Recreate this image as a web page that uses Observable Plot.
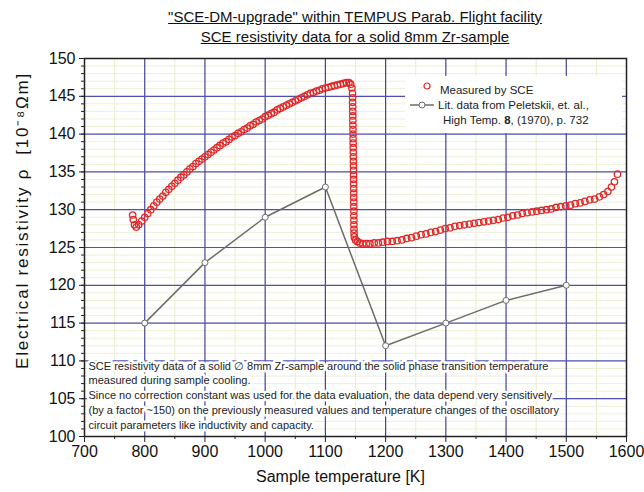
<!DOCTYPE html>
<html><head><meta charset="utf-8">
<script src="https://cdn.jsdelivr.net/npm/d3@7"></script>
<script src="https://cdn.jsdelivr.net/npm/@observablehq/plot@0.6"></script>
<style>
body{margin:0;background:#fff;font-family:"Liberation Sans",Arial,sans-serif;}
#wrap{position:relative;width:644px;height:492px;}
#title{height:44px;box-sizing:border-box;padding-top:7px;padding-left:66px;text-align:center;font-size:15px;line-height:20px;color:#111;}
#title span{text-decoration:underline;}
#legend{position:absolute;left:405px;top:76px;width:217px;height:57px;background:#fff;font-size:11.5px;color:#222;}
#legend .row{position:absolute;white-space:nowrap;line-height:14px;}
#legend svg{position:absolute;}
.ylab text{letter-spacing:1.8px;}
</style></head><body>
<div id="wrap">
<div id="title"><span>"SCE-DM-upgrade" within TEMPUS Parab. Flight facility</span><br><span>SCE resistivity data for a solid 8mm Zr-sample</span></div>
<div id="chart"></div>
<div id="legend"></div>
</div>
<script>
// Literature data (Peletskii et al.)
const litT = [800, 900, 1000, 1100, 1200, 1300, 1400, 1500];
const litR = [115, 123, 129, 133, 112, 115, 118, 120];

const measT = [
 780,781,783,786,790,795,800,805,810,815,820,825,830,835,840,845,850,855,860,865,870,875,880,885,890,895,
 900,905,910,915,920,925,930,935,940,945,950,955,960,965,970,975,980,985,990,995,
 1000,1005,1010,1015,1020,1025,1030,1035,1040,1045,1050,1055,1060,1065,1070,1075,1080,1085,1090,1095,
 1100,1105,1110,1115,1120,1125,1130,1135,1139,1142,1144,
 1145,1145.1,1145.2,1145.3,1145.4,1145.5,1145.6,1145.7,1145.8,1145.9,1146,1146.1,1146.2,1146.3,1146.4,1146.5,
 1146.6,1146.7,1146.8,1146.9,1147,1147,1147.1,1147.1,1147.2,1147.2,1147.3,1147.3,1147.4,1147.4,1147.5,1147.6,
 1148,1150,1153,1157,1162,1168,1174,1181,1188,1195,1203,1211,1219,1227,1235,
 1243,1251,1259,1267,1275,1283,1291,1299,1307,1315,1323,1331,1339,1347,1355,1363,1371,1379,1387,1395,
 1403,1411,1419,1427,1435,1443,1451,1459,1467,1475,1483,1491,1499,1507,1515,1523,1531,1539,1547,1555,
 1562,1569,1575,1580,1585
];
const measR = [
 129.3,128.7,128.0,127.7,128.0,128.5,129.0,129.5,130.0,130.5,131.0,131.4,131.8,132.3,132.7,133.1,133.5,133.9,134.3,134.6,135.0,135.4,135.7,136.1,136.4,136.7,
 137.0,137.3,137.6,137.9,138.2,138.5,138.8,139.0,139.3,139.6,139.8,140.1,140.3,140.6,140.8,141.1,141.3,141.6,141.8,142.0,
 142.3,142.5,142.7,142.9,143.2,143.4,143.6,143.8,144.0,144.2,144.4,144.6,144.8,145.0,145.2,145.4,145.5,145.7,145.8,146.0,
 146.1,146.2,146.3,146.4,146.5,146.6,146.7,146.8,146.8,146.6,146.1,
 145.4,144.8,144.2,143.6,143.0,142.4,141.8,141.2,140.6,140.0,139.4,138.8,138.2,137.6,137.0,136.4,
 135.8,135.2,134.6,134.0,133.4,132.8,132.2,131.6,131.0,130.4,129.8,129.2,128.6,128.0,127.4,126.9,
 126.4,126.0,125.8,125.6,125.5,125.5,125.5,125.6,125.6,125.7,125.8,125.8,125.9,126.0,126.2,
 126.3,126.5,126.7,126.8,127.0,127.1,127.3,127.5,127.6,127.8,127.9,128.0,128.1,128.2,128.3,128.4,128.5,128.6,128.7,128.9,
 129.0,129.2,129.3,129.5,129.6,129.7,129.8,129.9,130.0,130.1,130.3,130.4,130.5,130.6,130.8,130.9,131.1,131.3,131.4,131.7,
 132.0,132.4,133.0,133.7,134.7
];

const xTicks = [700, 800, 900, 1000, 1100, 1200, 1300, 1400, 1500, 1600];
const yTicks = [100, 105, 110, 115, 120, 125, 130, 135, 140, 145, 150];
const xMinor = [750, 850, 950, 1050, 1150, 1250, 1350, 1450, 1550];
const yMinor = d3.range(100, 151, 1);

const titleX = "Sample temperature [K]";
const titleY = "Electrical resistivity \u03c1  [10\u207b\u2078\u03a9m]";
const legendLabels = ["Measured by SCE", "Lit. data from Peletskii, et. al.,", "High Temp. ", "8", ", (1970), p. 732"];
const note = "SCE resistivity data of a solid \u2205 8mm Zr-sample around the solid phase transition temperature\nmeasured during sample cooling.\nSince no correction constant was used for the data evaluation, the data depend very sensitively\n(by a factor ~150) on the previously measured values and temperature changes of the oscillatory\ncircuit parameters like inductivity and capacity.";

const meas = measT.map((t, i) => ({t, r: measR[i]}));
const lit = litT.map((t, i) => ({t, r: litR[i]}));
const fmt = d => String(d);

const chart = Plot.plot({
  width: 644, height: 448,
  marginLeft: 84, marginRight: 18, marginTop: 14, marginBottom: 56,
  x: {domain: [700, 1600]},
  y: {domain: [100, 150]},
  style: {fontFamily: "'Liberation Sans', Arial, sans-serif", fontSize: "16px", color: "#111", background: "white", overflow: "visible"},
  marks: [
    Plot.gridX(xMinor, {stroke: "#e9ecc6", strokeOpacity: 1, strokeWidth: 1}),
    Plot.gridY(yMinor, {stroke: "#eef0d6", strokeOpacity: 1, strokeWidth: 1}),
    Plot.gridX(xTicks.slice(1, -1), {stroke: "#44449a", strokeOpacity: 1, strokeWidth: 1.2}),
    Plot.gridY(yTicks.slice(1, -1), {stroke: "#5050b0", strokeOpacity: 1, strokeWidth: 1.2}),
    Plot.text([note], {frameAnchor: "bottom-left", text: d => d, dx: 4, dy: -8, textAnchor: "start", lineAnchor: "bottom",
      fontSize: 11, lineHeight: 1.34, fill: "#222", stroke: "white", strokeWidth: 5}),
    Plot.line(lit, {x: "t", y: "r", stroke: "#6c6c6c", strokeWidth: 1.5}),
    Plot.dot(lit, {x: "t", y: "r", r: 3, fill: "white", stroke: "#6c6c6c", strokeWidth: 1}),
    Plot.dot(meas, {x: "t", y: "r", r: 3.2, fill: "none", stroke: "#e02828", strokeWidth: 1.3}),
    Plot.frame({stroke: "#222", strokeWidth: 1.5}),
    Plot.axisX(xTicks, {tickSize: 6, tickPadding: 3, fontSize: 16, tickFormat: fmt, label: null, stroke: "#222"}),
    Plot.axisX(xMinor, {tickSize: 3, tickFormat: () => "", label: null, stroke: "#222"}),
    Plot.axisY(yTicks, {tickSize: 5, tickPadding: 4, fontSize: 16, tickFormat: fmt, label: null, stroke: "#222"}),
    Plot.axisY(yMinor, {tickSize: 3, tickFormat: () => "", label: null, stroke: "#222"}),
    Plot.text([titleX], {frameAnchor: "bottom", text: d => d, dx: -15, dy: 45, fontSize: 16, fill: "#111"}),
    Plot.text([titleY], {frameAnchor: "left", text: d => d, textAnchor: "middle", dx: -62, dy: -27, rotate: -90, fontSize: 17, fill: "#111", className: "ylab"})
  ]
});
document.getElementById("chart").appendChild(chart);

// legend (HTML overlay with white background)
const lg = document.getElementById("legend");
lg.innerHTML =
  `<svg style="left:17px;top:5px" width="10" height="10"><circle cx="5" cy="5" r="3" fill="none" stroke="#e02828" stroke-width="1.2"/></svg>` +
  `<div class="row" style="left:35px;top:7px">${legendLabels[0]}</div>` +
  `<svg style="left:4px;top:24px" width="26" height="10"><line x1="1" x2="25" y1="5" y2="5" stroke="#6c6c6c" stroke-width="1.5"/><circle cx="13" cy="5" r="3" fill="white" stroke="#6c6c6c"/></svg>` +
  `<div class="row" style="left:33px;top:22px">${legendLabels[1]}</div>` +
  `<div class="row" style="left:38px;top:37px">${legendLabels[2]}<b>${legendLabels[3]}</b>${legendLabels[4]}</div>`;
</script>
</body></html>
